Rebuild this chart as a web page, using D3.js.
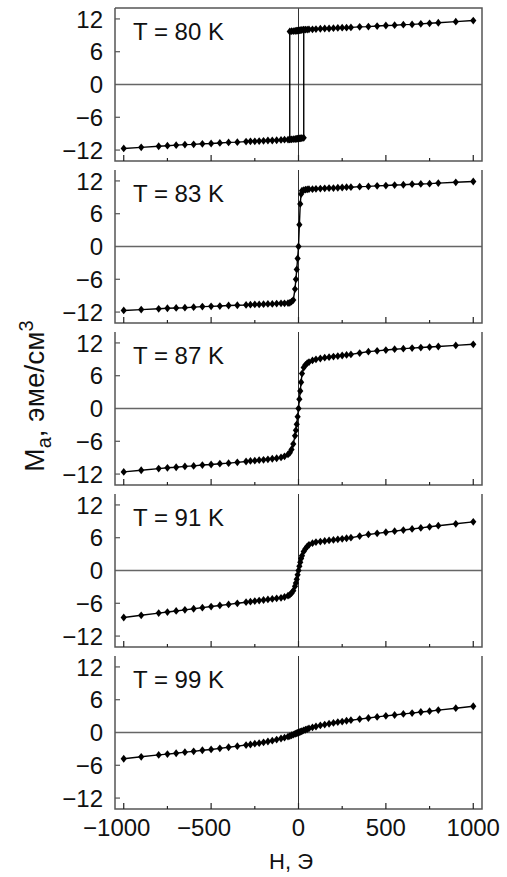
<!DOCTYPE html>
<html>
<head>
<meta charset="utf-8">
<script src="https://cdn.jsdelivr.net/npm/d3@7"></script>
<style>
  body { margin: 0; background: #fff; }
  svg { display: block; font-family: "Liberation Sans", Arial, Helvetica, sans-serif; }
</style>
</head>
<body>
<div id="chart"></div>
<script>
// Field grid shared by the single-valued curves (Oe)
var fieldOe = [-1000,-900,-800,-750,-700,-650,-600,-550,-500,-450,-400,-350,-300,
  -275,-250,-225,-200,-175,-150,-125,-100,-80,-60,-50,-40,-30,-20,-15,-10,-5,0,
  5,10,15,20,30,40,50,60,80,100,125,150,175,200,225,250,275,300,350,400,450,500,
  550,600,650,700,750,800,900,1000];

// T = 80 K: square loop, two branches (last point of each is the jump)
var h80Up = [-1000,-900,-800,-750,-700,-650,-600,-550,-500,-450,-400,-350,-300,
  -275,-250,-225,-200,-175,-150,-125,-100,-80,-60,-50,-40,-30,-20,-15,-10,-5,0,
  5,10,15,20,30,30];
var m80Up = [-11.7,-11.5,-11.3,-11.2,-11.1,-11.0,-10.95,-10.85,-10.8,-10.7,-10.6,
  -10.55,-10.45,-10.4,-10.4,-10.35,-10.3,-10.25,-10.25,-10.2,-10.15,-10.1,-10.1,
  -10.05,-10.05,-10.0,-10.0,-9.95,-9.95,-9.9,-9.9,-9.85,-9.85,-9.8,-9.8,-9.75,10.05];
var h80Down = [1000,900,800,750,700,650,600,550,500,450,400,350,300,275,250,225,
  200,175,150,125,100,80,60,50,40,30,20,15,10,5,0,-5,-10,-15,-20,-30,-40,-50,-50];
var m80Down = [11.7,11.5,11.3,11.2,11.1,11.0,10.95,10.85,10.8,10.7,10.6,10.55,10.45,
  10.4,10.4,10.35,10.3,10.25,10.25,10.2,10.15,10.1,10.1,10.05,10.05,10.0,10.0,9.95,
  9.95,9.9,9.9,9.85,9.85,9.8,9.8,9.75,9.75,9.7,-10.05];

var m83 = [-11.7,-11.55,-11.4,-11.3,-11.25,-11.2,-11.1,-11.0,-10.95,-10.9,-10.8,-10.75,
  -10.7,-10.65,-10.6,-10.6,-10.55,-10.5,-10.5,-10.45,-10.4,-10.4,-10.35,-10.3,-10.1,
  -9.8,-7.8,-6.0,-4.2,-2.2,0,4.0,7.8,9.6,10.2,10.3,10.4,10.45,10.5,10.5,10.55,10.6,
  10.65,10.7,10.7,10.75,10.8,10.85,10.85,10.95,11.0,11.1,11.15,11.25,11.3,11.4,11.45,
  11.5,11.6,11.75,11.9];
var m87 = [-11.6,-11.3,-11.0,-10.85,-10.75,-10.6,-10.5,-10.35,-10.25,-10.1,-10.0,-9.85,
  -9.7,-9.6,-9.55,-9.45,-9.4,-9.3,-9.2,-9.1,-8.95,-8.75,-8.4,-8.1,-7.5,-6.5,-5.0,-4.0,
  -2.9,-1.5,0,1.7,3.2,4.8,6.4,7.5,8.0,8.3,8.5,8.8,9.0,9.15,9.3,9.4,9.5,9.6,9.7,9.8,
  9.9,10.15,10.4,10.55,10.7,10.85,10.95,11.05,11.15,11.25,11.35,11.55,11.75];
var m91 = [-8.6,-8.2,-7.8,-7.6,-7.4,-7.2,-7.0,-6.8,-6.6,-6.4,-6.2,-6.0,-5.8,-5.7,-5.6,
  -5.5,-5.4,-5.3,-5.2,-5.1,-5.0,-4.85,-4.6,-4.45,-4.15,-3.7,-2.9,-2.3,-1.6,-0.8,0,
  0.8,1.5,2.2,2.7,3.5,4.0,4.4,4.7,5.0,5.2,5.3,5.4,5.5,5.6,5.7,5.8,5.9,6.0,6.3,6.6,
  6.8,7.0,7.2,7.4,7.6,7.8,8.0,8.2,8.55,8.9];
var m99 = [-4.8,-4.45,-4.1,-3.95,-3.8,-3.6,-3.45,-3.25,-3.1,-2.9,-2.7,-2.5,-2.3,-2.2,
  -2.05,-1.95,-1.8,-1.65,-1.5,-1.3,-1.1,-0.95,-0.75,-0.65,-0.5,-0.4,-0.25,-0.2,-0.12,
  -0.06,0,0.06,0.12,0.2,0.25,0.4,0.5,0.6,0.75,0.95,1.1,1.3,1.45,1.6,1.75,1.9,2.0,
  2.15,2.25,2.45,2.65,2.85,3.05,3.2,3.4,3.55,3.75,3.9,4.1,4.45,4.8];

var tempLabels = ['T = 80 K', 'T = 83 K', 'T = 87 K', 'T = 91 K', 'T = 99 K'];
var yTicks = [12, 6, -6, -12];
var yLabelValues = [12, 6, 0, -6, -12];
var yTickLabels = ['12', '6', '0', '\u22126', '\u221212'];
var xMajorTicks = [-1000, -500, 0, 500, 1000];
var xMinorTicks = [-750, -250, 250, 750];
var xTickLabels = ['\u22121000', '\u2212500', '0', '500', '1000'];

function zip(hs, ms) {
  return hs.map(function pair(h, i) { return [h, ms[i]]; });
}

var panels = [
  [zip(h80Down, m80Down), zip(h80Up, m80Up)],
  [zip(fieldOe, m83)],
  [zip(fieldOe, m87)],
  [zip(fieldOe, m91)],
  [zip(fieldOe, m99)]
];

var width = 507, height = 877;
var frame = {left: 115, right: 482, top: 8, pitch: 162, h: 153};
var frameColor = '#555';

var svg = d3.select('#chart').append('svg')
  .attr('width', width)
  .attr('height', height);

var x = d3.scaleLinear().domain([-1050, 1050]).range([frame.left, frame.right]);
var y = d3.scaleLinear().domain([-14, 14]).range([frame.h, 0]);

var line = d3.line()
  .x(function(d) { return x(d[0]); })
  .y(function(d) { return y(d[1]); });

var diamond = 'M0,-3.9L3.1,0L0,3.9L-3.1,0Z';

panels.forEach(function drawPanel(curves, i) {
  var g = svg.append('g')
    .attr('transform', 'translate(0,' + (frame.top + i * frame.pitch) + ')');

  // zero lines
  g.append('line')
    .attr('x1', frame.left).attr('x2', frame.right)
    .attr('y1', y(0)).attr('y2', y(0))
    .attr('stroke', '#666').attr('stroke-width', 1.5);
  g.append('line')
    .attr('x1', x(0)).attr('x2', x(0))
    .attr('y1', 0).attr('y2', frame.h)
    .attr('stroke', '#333').attr('stroke-width', 1);

  // frame: only the top panel is closed on top
  var framePath = 'M' + frame.left + ',0V' + frame.h + 'H' + frame.right + 'V0';
  if (i === 0) {
    framePath += 'H' + frame.left;
  }
  g.append('path')
    .attr('d', framePath)
    .attr('fill', 'none')
    .attr('stroke', frameColor)
    .attr('stroke-width', 1.5);

  // y ticks, pointing inward
  g.selectAll('.ytick').data(yTicks).enter().append('line')
    .attr('x1', frame.left).attr('x2', frame.left + 5)
    .attr('y1', function(d) { return y(d); })
    .attr('y2', function(d) { return y(d); })
    .attr('stroke', frameColor).attr('stroke-width', 1.2);

  g.selectAll('.ylab').data(yLabelValues).enter().append('text')
    .attr('x', 103)
    .attr('y', function(d) { return y(d); })
    .attr('dy', '0.36em')
    .attr('text-anchor', 'end')
    .attr('font-size', 24)
    .attr('fill', '#111')
    .text(function(d, k) { return yTickLabels[k]; });

  // x ticks on the bottom edge, pointing up
  g.selectAll('.xmaj').data(xMajorTicks).enter().append('line')
    .attr('x1', function(d) { return x(d); })
    .attr('x2', function(d) { return x(d); })
    .attr('y1', frame.h).attr('y2', frame.h - 6)
    .attr('stroke', '#222').attr('stroke-width', 1.2);
  g.selectAll('.xmin').data(xMinorTicks).enter().append('line')
    .attr('x1', function(d) { return x(d); })
    .attr('x2', function(d) { return x(d); })
    .attr('y1', frame.h).attr('y2', frame.h - 3)
    .attr('stroke', '#222').attr('stroke-width', 1.2);

  // data
  curves.forEach(function drawCurve(pts) {
    g.append('path')
      .attr('d', line(pts))
      .attr('fill', 'none')
      .attr('stroke', '#000')
      .attr('stroke-width', 1.4);
    g.selectAll(null).data(pts).enter().append('path')
      .attr('d', diamond)
      .attr('transform', function(d) {
        return 'translate(' + x(d[0]) + ',' + y(d[1]) + ')';
      })
      .attr('fill', '#000');
  });

  g.append('text')
    .attr('x', 133)
    .attr('y', y(12) + 21)
    .attr('font-size', 24)
    .attr('fill', '#111')
    .text(tempLabels[i]);
});

// bottom axis labels
var axisBottom = frame.top + 4 * frame.pitch + frame.h;
svg.selectAll('.xlab').data(xMajorTicks).enter().append('text')
  .attr('x', function(d) { return x(d) - (d < 0 ? 7 : 0); })
  .attr('y', axisBottom + 27)
  .attr('text-anchor', 'middle')
  .attr('font-size', 24)
  .attr('fill', '#111')
  .text(function(d, k) { return xTickLabels[k]; });

svg.append('text')
  .attr('x', 291)
  .attr('y', 869)
  .attr('text-anchor', 'middle')
  .attr('font-size', 22)
  .attr('fill', '#111')
  .text('H, \u042D');

var yTitle = svg.append('text')
  .attr('transform', 'translate(44,396) rotate(-90)')
  .attr('text-anchor', 'middle')
  .attr('font-size', 28)
  .attr('fill', '#111');
yTitle.append('tspan').text('M');
yTitle.append('tspan').attr('dy', 7).attr('font-size', 20).text('\u0430');
yTitle.append('tspan').attr('dy', -7).text(', \u044D\u043C\u0435/\u0441\u043C');
yTitle.append('tspan').attr('dy', -11).attr('font-size', 20).text('3');
</script>
</body>
</html>
